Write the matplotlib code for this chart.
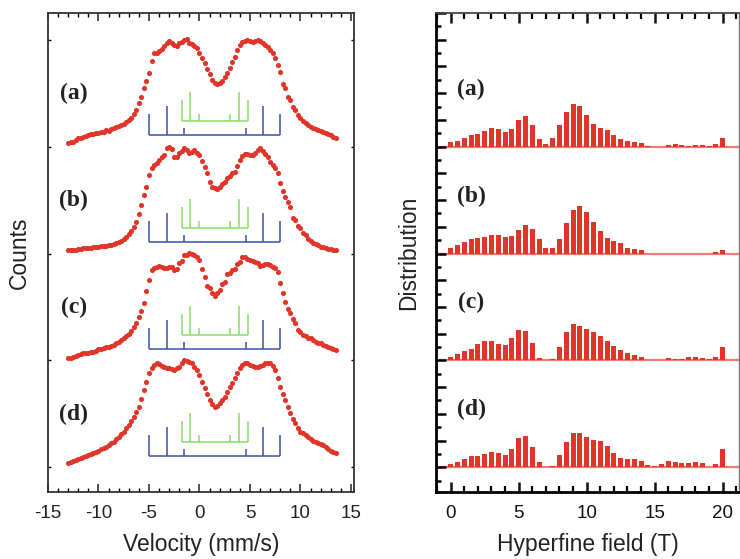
import numpy as np
import matplotlib
matplotlib.use("Agg")
import matplotlib.pyplot as plt
from matplotlib.ticker import MultipleLocator, FixedLocator

plt.rcParams['font.family'] = ['Liberation Sans', 'DejaVu Sans']
plt.rcParams['axes.unicode_minus'] = False

# ---- Mossbauer spectra (left), arbitrary count units ----
velocity = np.arange(-13.0, 13.51, 0.25)

counts_a = [6.7, 8.0, 8.3, 10.0, 11.7, 12.0, 13.3, 13.7, 15.0, 16.0, 16.0, 17.0, 17.3, 17.7,
            18.3, 19.7, 19.3, 21.0, 21.7, 23.0, 24.0, 24.7, 26.0, 28.0, 30.0, 32.3, 36.0, 40.0,
            46.7, 53.3, 61.7, 69.0, 76.7, 89.0, 96.7, 97.3, 99.3, 100.7, 104.0, 107.3, 108.7,
            107.3, 105.0, 104.0, 106.7, 108.3, 110.0, 110.7, 107.3, 106.3, 104.0, 102.3, 97.3,
            91.7, 86.7, 80.7, 76.0, 70.0, 66.7, 65.7, 67.3, 69.3, 72.7, 76.7, 81.7, 88.3, 93.3,
            100.0, 105.0, 108.0, 109.3, 109.7, 109.3, 108.3, 109.0, 110.0, 109.3, 106.7, 105.0,
            103.3, 100.0, 96.7, 91.7, 84.7, 78.3, 66.0, 61.7, 52.7, 50.0, 42.7, 40.0, 35.0, 31.7,
            29.0, 26.7, 25.0, 23.3, 22.0, 20.7, 19.7, 19.0, 17.7, 16.7, 15.7, 15.0, 13.3, 12.3]
counts_b = [7.0, 7.0, 7.0, 7.3, 7.7, 8.3, 8.7, 8.7, 8.7, 9.3, 9.7, 10.0, 10.3, 10.7, 11.0,
            11.3, 11.7, 12.3, 13.0, 14.0, 15.3, 16.3, 17.7, 20.0, 23.0, 26.3, 30.3, 35.3, 43.0,
            52.0, 61.7, 70.3, 81.7, 88.7, 92.0, 94.3, 97.0, 100.3, 102.0, 108.7, 110.3, 107.7,
            100.3, 100.3, 103.7, 106.3, 108.7, 107.0, 103.7, 105.3, 107.0, 104.3, 102.0, 96.3,
            90.3, 83.7, 75.3, 70.3, 68.7, 68.0, 70.3, 73.0, 75.3, 78.7, 81.0, 83.7, 85.3, 91.0,
            97.0, 101.0, 103.0, 103.0, 102.0, 102.0, 103.7, 107.0, 108.7, 106.3, 103.0, 99.7,
            95.3, 91.7, 88.7, 83.7, 73.7, 66.3, 59.7, 55.0, 50.3, 38.7, 37.0, 31.0, 28.7, 23.7,
            22.0, 18.3, 16.3, 14.3, 13.0, 11.7, 10.3, 9.7, 8.7, 8.0, 7.7, 7.0, 7.0]
counts_c = [5.7, 6.5, 7.3, 8.0, 9.0, 10.0, 10.7, 10.7, 11.3, 12.0, 12.3, 13.3, 14.7, 15.0,
            15.7, 16.7, 17.3, 18.0, 19.0, 20.7, 22.3, 24.0, 25.7, 27.7, 30.0, 33.0, 37.0, 40.7,
            47.3, 52.7, 61.0, 72.7, 84.0, 94.0, 95.7, 96.7, 98.0, 97.3, 95.7, 95.7, 96.7, 97.3,
            94.0, 94.7, 100.7, 103.3, 109.0, 109.3, 110.7, 110.0, 109.0, 106.7, 104.0, 94.7,
            87.3, 78.3, 75.7, 70.7, 68.0, 71.3, 74.0, 79.7, 82.3, 90.0, 90.7, 93.7, 94.7, 100.3,
            102.3, 106.7, 107.3, 105.0, 104.0, 103.0, 102.3, 101.3, 98.0, 98.7, 100.0, 99.7,
            99.0, 97.3, 95.7, 92.3, 80.7, 71.0, 62.3, 54.7, 50.7, 44.7, 40.7, 34.0, 32.3, 29.0,
            28.0, 26.3, 25.7, 24.0, 22.3, 21.5, 20.7, 19.5, 18.0, 17.0, 16.3, 15.0, 14.0]
counts_d = [7.7, 9.0, 10.3, 11.0, 11.7, 12.7, 13.7, 15.0, 16.0, 17.0, 17.7, 19.0, 20.3, 21.7,
            22.7, 24.3, 26.0, 27.7, 29.3, 31.7, 34.3, 36.7, 39.3, 42.7, 46.0, 50.0, 54.3, 58.7,
            64.3, 72.0, 81.0, 89.3, 97.7, 103.3, 106.0, 107.7, 107.0, 105.3, 104.3, 103.3, 102.7,
            101.7, 101.0, 102.7, 104.3, 107.7, 111.0, 110.3, 109.3, 107.7, 104.3, 101.0, 96.0,
            89.3, 82.7, 76.7, 71.0, 67.0, 64.3, 65.0, 67.7, 71.0, 74.3, 79.3, 84.3, 88.3, 92.7,
            97.7, 102.7, 106.0, 108.3, 107.7, 106.0, 105.3, 104.3, 104.3, 105.0, 106.0, 107.7,
            107.7, 107.7, 105.3, 101.0, 92.7, 84.3, 77.0, 71.0, 64.3, 57.7, 52.0, 47.7, 42.7,
            39.3, 37.7, 36.0, 33.7, 31.7, 30.3, 29.3, 28.3, 27.0, 25.7, 24.3, 22.3, 20.3, 19.0,
            17.7]

# hyperfine sextets (line positions in mm/s, relative heights)
blue_pos = [-5.0, -3.25, -1.55, 4.6, 6.3, 8.0]
blue_h = [21, 29, 6.5, 6.5, 29, 21]
green_pos = [-1.7, -0.9, 0.0, 3.05, 3.9, 4.8]
green_h = [21.5, 28.7, 7, 7, 28.7, 21.5]

# ---- hyperfine field distributions (right) ----
field = np.arange(0, 20.01, 0.5)

dist_a = [0.175, 0.225, 0.31, 0.44, 0.49, 0.59, 0.68, 0.65, 0.56, 0.65, 0.99, 1.14, 0.80, 0.28,
          0.09, 0.34, 0.80, 1.30, 1.59, 1.51, 1.18, 0.84, 0.71, 0.61, 0.45, 0.28, 0.21, 0.19,
          0.125, 0.03, 0, 0, 0.06, 0.09, 0.05, 0.02, 0.05, 0.05, 0.02, 0.09, 0.31]
dist_b = [0.2, 0.31, 0.44, 0.54, 0.58, 0.61, 0.69, 0.69, 0.61, 0.65, 0.88, 1.06, 0.91, 0.54,
          0.2, 0.2, 0.54, 1.14, 1.63, 1.78, 1.55, 1.18, 0.84, 0.58, 0.46, 0.39, 0.2, 0.16,
          0.125, 0, 0, 0, 0, 0, 0, 0, 0, 0, 0, 0.05, 0.125]
dist_c = [0.125, 0.24, 0.35, 0.425, 0.61, 0.72, 0.72, 0.61, 0.575, 0.84, 1.14, 1.1, 0.65, 0.09,
          0, 0.05, 0.5, 1.06, 1.36, 1.29, 1.18, 1.06, 0.91, 0.72, 0.54, 0.39, 0.275, 0.2,
          0.125, 0, 0, 0.03, 0.09, 0.04, 0.05, 0.125, 0.125, 0.09, 0.05, 0.125, 0.5]
dist_d = [0.125, 0.2, 0.31, 0.425, 0.425, 0.5, 0.59, 0.54, 0.46, 0.69, 1.1, 1.18, 0.76, 0.2,
          0, 0.05, 0.46, 0.95, 1.29, 1.29, 1.14, 1.03, 0.99, 0.8, 0.54, 0.35, 0.31, 0.31,
          0.24, 0.09, 0.05, 0.125, 0.24, 0.2, 0.16, 0.16, 0.2, 0.16, 0, 0.125, 0.69]

labels = ['(a)', '(b)', '(c)', '(d)']
spectra = [counts_a, counts_b, counts_c, counts_d]
dists = [dist_a, dist_b, dist_c, dist_d]

RED = '#e2352a'
BLUE = '#3c4fa6'
GREEN = '#86dc64'

fig = plt.figure(figsize=(7.4, 5.59), dpi=100)
ax1 = fig.add_axes([48 / 740, 67 / 559, 306 / 740, 479 / 559])
ax2 = fig.add_axes([436 / 740, 67 / 559, 303 / 740, 479 / 559])

# left panel
spec_offsets = [342, 235, 128, 21]
for lab, cnt, off in zip(labels, spectra, spec_offsets):
    ax1.plot(velocity, np.array(cnt) + off, 'o', ms=3.7, color=RED, mec='none')
    b0 = off + 15.5
    ax1.vlines(blue_pos, b0, b0 + np.array(blue_h), color=BLUE, lw=1.1)
    ax1.hlines(b0, blue_pos[0], blue_pos[-1], color=BLUE, lw=1.1)
    g0 = b0 + 13.5
    ax1.vlines(green_pos, g0, g0 + np.array(green_h), color=GREEN, lw=1.1)
    ax1.hlines(g0, green_pos[0], green_pos[-1], color=GREEN, lw=1.1)
    ax1.text(-12.45, off + 57, lab, ha='center', va='center', fontsize=17,
             fontweight='bold', family='Liberation Serif', color='#222222')

ax1.set_xlim(-15, 15.3)
ax1.set_ylim(0, 479)
ax1.set_xticks([-15, -10, -5, 0, 5, 10, 15])
ax1.xaxis.set_minor_locator(MultipleLocator(1))
ax1.yaxis.set_major_locator(FixedLocator([452, 345, 238, 132, 25]))
ax1.set_yticklabels([])
ax1.tick_params(axis='x', which='major', direction='in', length=6, width=1.1,
                top=True, labelsize=13.5, pad=9, colors='#222222')
ax1.tick_params(axis='x', which='minor', direction='in', length=3, width=1.0, top=True)
ax1.tick_params(axis='y', which='major', direction='in', length=2.5, width=1.0, right=True)
for s in ax1.spines.values():
    s.set_linewidth(1.3)
    s.set_color('#333333')
ax1.set_xlabel('Velocity (mm/s)', fontsize=16.5, labelpad=8, color='#222222')
ax1.set_ylabel('Counts', fontsize=16.5, labelpad=9, color='#222222')

# right panel
dist_offsets = [12, 8, 4, 0]
for lab, d, off in zip(labels, dists, dist_offsets):
    ax2.hlines(off, -1.1, 21.5, color='#ee7b72', lw=1.6, zorder=1)
    ax2.bar(field, d, width=0.36, bottom=off, color=RED, zorder=2)
    ax2.text(1.5, off + 2.15, lab, ha='center', va='center', fontsize=17,
             fontweight='bold', family='Liberation Serif', color='#222222')

ax2.set_xlim(-1.08, 21.2)
ax2.set_ylim(-0.925, 17.0)
ax2.set_xticks([0, 5, 10, 15, 20])
ax2.xaxis.set_minor_locator(MultipleLocator(1))
ax2.yaxis.set_major_locator(MultipleLocator(1))
ax2.yaxis.set_minor_locator(MultipleLocator(0.5))
ax2.set_yticklabels([])
ax2.tick_params(axis='x', which='major', direction='in', length=7, width=1.8,
                top=True, labelsize=13.5, pad=9, colors='#111111')
ax2.tick_params(axis='x', which='minor', direction='in', length=4, width=1.6, top=True)
ax2.tick_params(axis='y', which='major', direction='in', length=7, width=1.8)
ax2.tick_params(axis='y', which='minor', direction='in', length=3.5, width=1.8)
ax2.spines['left'].set_linewidth(2.0)
ax2.spines['bottom'].set_linewidth(2.0)
ax2.spines['top'].set_linewidth(1.3)
ax2.spines['top'].set_color('#444444')
ax2.spines['right'].set_linewidth(1.0)
ax2.spines['right'].set_color('#777777')
ax2.set_xlabel('Hyperfine field (T)', fontsize=16.5, labelpad=8, color='#222222')
ax2.set_ylabel('Distribution', fontsize=16.5, labelpad=8, color='#222222')

fig.savefig('out.png', dpi=100)
